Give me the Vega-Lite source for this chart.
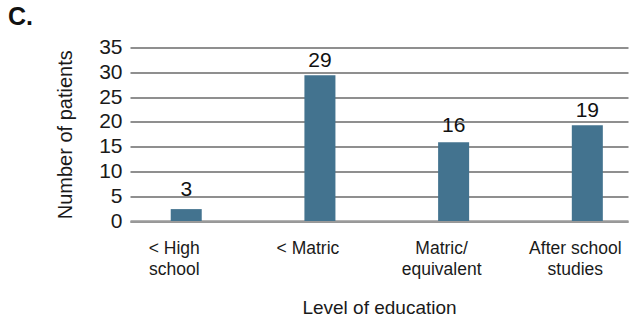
{
  "$schema": "https://vega.github.io/schema/vega-lite/v6.json",
  "autosize": {"type": "none"},
  "width": 498,
  "height": 173.5,
  "padding": {"left": 130, "top": 47.5, "right": 4, "bottom": 96},
  "background": "white",
  "title": {
    "text": "C.",
    "anchor": "start",
    "frame": "group",
    "font": "Liberation Sans",
    "fontSize": 25,
    "fontWeight": "bold",
    "color": "#111111",
    "dx": -122,
    "offset": 14,
    "dy": 7
  },
  "data": {
    "values": [
      {"level": "< High school", "count": 2.4, "n": 3},
      {"level": "< Matric", "count": 29.4, "n": 29},
      {"level": "Matric/ equivalent", "count": 15.9, "n": 16},
      {"level": "After school studies", "count": 19.3, "n": 19}
    ]
  },
  "config": {
    "view": {"stroke": null},
    "font": "Liberation Sans",
    "axisY": {
      "titleFont": "Liberation Sans",
      "titleFontSize": 20,
      "titleFontWeight": "normal",
      "titleColor": "#1a1a1a",
      "titlePadding": 23,
      "labelOverlap": false,
      "labelFont": "Liberation Sans",
      "labelFontSize": 21,
      "labelColor": "#1a1a1a",
      "labelPadding": 8,
      "ticks": false,
      "domain": false,
      "grid": true,
      "gridColor": "#6a6a6a",
      "gridWidth": 1.5
    }
  },
  "encoding": {
    "x": {
      "field": "level",
      "type": "nominal",
      "sort": null,
      "scale": {"paddingInner": 0.768, "paddingOuter": 0.2464, "align": 0.618},
      "axis": {
        "title": "Level of education",
        "titleFont": "Liberation Sans",
        "titleFontSize": 19,
        "titleFontWeight": "normal",
        "titleColor": "#1a1a1a",
        "titlePadding": 20,
        "labelAngle": 0,
        "labelFont": "Liberation Sans",
        "labelFontSize": 17.5,
        "labelColor": "#1a1a1a",
        "labelPadding": 18,
        "labelLineHeight": 21.5,
        "labelOffset": -12,
        "labelOverlap": false,
        "labelBound": false,
        "labelExpr": "datum.value == '< High school' ? ['< High', 'school'] : datum.value == 'Matric/ equivalent' ? ['Matric/', 'equivalent'] : datum.value == 'After school studies' ? ['After school', 'studies'] : datum.value",
        "ticks": false,
        "domain": true,
        "domainColor": "#9a9a9a",
        "domainWidth": 2.5,
        "grid": false
      }
    }
  },
  "layer": [
    {
      "mark": {"type": "bar", "color": "#43738f"},
      "encoding": {
        "y": {
          "field": "count",
          "type": "quantitative",
          "scale": {"domain": [0, 35], "nice": false},
          "axis": {"title": "Number of patients", "values": [0, 5, 10, 15, 20, 25, 30, 35]}
        }
      }
    },
    {
      "mark": {"type": "text", "baseline": "alphabetic", "dy": -10, "fontSize": 21, "font": "Liberation Sans", "color": "#111111"},
      "encoding": {
        "y": {
          "field": "n",
          "type": "quantitative",
          "axis": {"title": "Number of patients", "values": [0, 5, 10, 15, 20, 25, 30, 35]}
        },
        "text": {"field": "n", "type": "quantitative"}
      }
    }
  ]
}
